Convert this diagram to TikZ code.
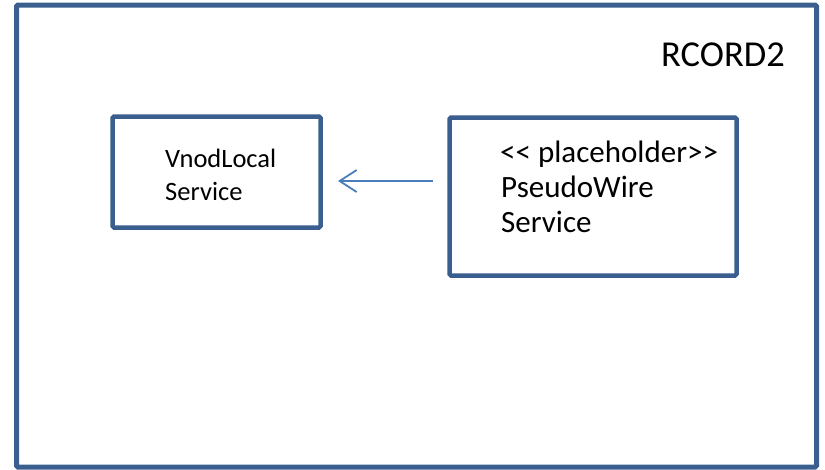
\documentclass[tikz,border=0pt]{standalone}
\usepackage{fontspec}
\setmainfont{Carlito}
\usetikzlibrary{arrows.meta}
\definecolor{boxblue}{HTML}{3A5F8F}
\definecolor{arrowblue}{HTML}{4A7EBB}
\begin{document}
\begin{tikzpicture}[x=1pt,y=-1pt,
  frame/.style={draw=boxblue,line width=5pt,rounded corners=1.5pt,minimum width=800pt,minimum height=462pt,inner sep=0pt},
  svcbox/.style={draw=boxblue,line width=4.5pt,rounded corners=1.5pt,inner sep=0pt},
  txt/.style={anchor=base west,inner sep=0pt,text=black},
  conn/.style={draw=arrowblue,line width=1.8pt,-{Straight Barb[length=17pt,width=22pt,line width=1.8pt]}}]
\useasboundingbox (0,0) rectangle (825,469);
\node[frame] (outer) at (416.5,236) {};
\node[svcbox,minimum width=208pt,minimum height=111pt] (vl) at (216.5,172) {};
\node[svcbox,minimum width=287pt,minimum height=158pt] (pw) at (593,196.5) {};
\node[txt,font=\fontsize{36.5}{43}\selectfont] (title) at (661,66) {RCORD2};
\node[txt,font=\fontsize{26.5}{33}\selectfont] (vl1) at (165,167) {VnodLocal};
\node[txt,font=\fontsize{26.5}{33}\selectfont] (vl2) at (165,200) {Service};
\node[txt,font=\fontsize{31}{35}\selectfont] (pw1) at (500,162) {{<}{<} placeholder{>}{>}};
\node[txt,font=\fontsize{31}{35}\selectfont] (pw2) at (501,197) {PseudoWire};
\node[txt,font=\fontsize{31}{35}\selectfont] (pw3) at (501,232) {Service};
\coordinate (astart) at (433,181);
\coordinate (aend) at (338,181);
\draw[conn] (astart) -- (aend);
\end{tikzpicture}
\end{document}
